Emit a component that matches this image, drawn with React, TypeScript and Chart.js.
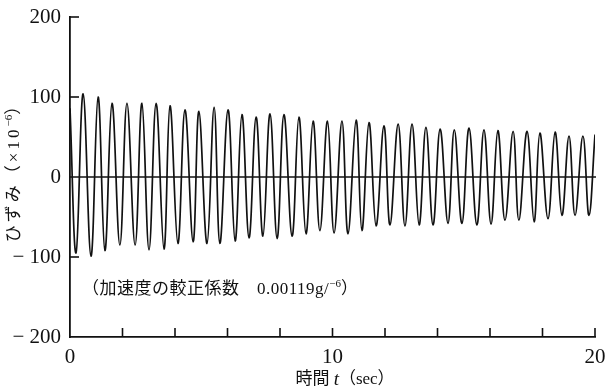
import { useEffect, useRef } from 'react';
import { Chart, registerables } from 'chart.js';

Chart.register(...registerables);

// time (sec) and strain (×10^-6)
const startTime = 0;
const startStrain = 86;
const endTime = 20;
const endStrain = 53;

const peakTimes = [
  0.5, 1.07, 1.6, 2.17, 2.74, 3.28, 3.81, 4.38, 4.91, 5.49, 6.02, 6.55, 7.09, 7.62, 8.15, 8.72, 9.26, 9.81,
  10.36, 10.9, 11.39, 11.96, 12.5, 13.03, 13.56, 14.1, 14.64, 15.2, 15.77, 16.3, 16.88, 17.41, 17.9, 18.48, 19.01, 19.54,
];
const peakStrain = [
  104, 100, 92, 92, 92, 92, 89, 84, 82, 87, 84, 78, 75, 79, 78, 75, 70, 70,
  70, 71, 68, 64, 66, 66, 62, 60, 59, 61, 59, 58, 57, 57, 55, 56, 51, 51,
];
const troughTimes = [
  0.23, 0.8, 1.33, 1.9, 2.48, 3.01, 3.58, 4.11, 4.69, 5.22, 5.71, 6.29, 6.82, 7.35, 7.89, 8.46, 8.99, 9.52,
  10.06, 10.59, 11.12, 11.66, 12.19, 12.76, 13.3, 13.83, 14.4, 14.93, 15.5, 16.04, 16.57, 17.1, 17.68, 18.21, 18.74, 19.24, 19.77,
];
const troughStrain = [
  -95, -99, -92, -85, -85, -91, -90, -83, -81, -83, -83, -80, -76, -74, -77, -74, -71, -67,
  -70, -71, -67, -61, -60, -61, -60, -60, -58, -58, -60, -59, -54, -54, -56, -52, -48, -48, -48,
];

const xTickLabels = ['0', '10', '20'];
const xTickMarks = [2, 4, 6, 8, 10, 12, 14, 16, 18, 20];
const yTickValues = [200, 100, 0, -100, -200];
const yTickMarks = [200, 100, -100];

const yTitleMain = 'ひずみ（×10';
const yTitleSup = '−6';
const yTitleEnd = '）';
const noteMain = '（加速度の較正係数　0.00119g/';
const noteSup = '−6';
const noteEnd = '）';
const xTitleA = '時間 ';
const xTitleB = 't';
const xTitleC = '（sec）';

const SERIF = "'Liberation Serif', 'Noto Sans CJK JP', serif";

type Seg = { text: string; font: string; dy?: number; spacing?: string };

function drawRich(ctx: CanvasRenderingContext2D, segs: Seg[], cx: number, cy: number) {
  let total = 0;
  const widths: number[] = [];
  for (const s of segs) {
    ctx.font = s.font;
    (ctx as any).letterSpacing = s.spacing || '0px';
    const w = ctx.measureText(s.text).width;
    widths.push(w);
    total += w;
  }
  let x = cx - total / 2;
  ctx.textAlign = 'left';
  ctx.textBaseline = 'middle';
  segs.forEach((s, i) => {
    ctx.font = s.font;
    (ctx as any).letterSpacing = s.spacing || '0px';
    ctx.fillText(s.text, x, cy + (s.dy || 0));
    x += widths[i];
  });
  (ctx as any).letterSpacing = '0px';
}

const decorPlugin = {
  id: 'decor',
  beforeDatasetsDraw(chart: any) {
    const { ctx, scales } = chart;
    const xs = scales.x;
    const ys = scales.y;
    ctx.save();
    ctx.strokeStyle = '#111';
    ctx.lineWidth = 1.6;
    const y0 = ys.getPixelForValue(0);
    ctx.beginPath();
    ctx.moveTo(xs.getPixelForValue(0), y0);
    ctx.lineTo(xs.getPixelForValue(20) + 1, y0);
    ctx.stroke();
    const yb = ys.getPixelForValue(-200);
    for (const t of xTickMarks) {
      const px = xs.getPixelForValue(t);
      ctx.beginPath();
      ctx.moveTo(px, yb);
      ctx.lineTo(px, yb - 9);
      ctx.stroke();
    }
    const xl = xs.getPixelForValue(0);
    for (const v of yTickMarks) {
      const py = ys.getPixelForValue(v);
      ctx.beginPath();
      ctx.moveTo(xl, py);
      ctx.lineTo(xl + 9, py);
      ctx.stroke();
    }
    ctx.restore();
  },
  afterDraw(chart: any) {
    const { ctx } = chart;
    ctx.save();
    ctx.fillStyle = '#111';
    // annotation
    drawRich(
      ctx,
      [
        { text: noteMain, font: `17px ${SERIF}`, spacing: '0.5px' },
        { text: noteSup, font: `11px ${SERIF}`, dy: -6 },
        { text: noteEnd, font: `17px ${SERIF}` },
      ],
      220,
      290,
    );
    // x title
    drawRich(
      ctx,
      [
        { text: xTitleA, font: `17px ${SERIF}` },
        { text: xTitleB, font: `italic 19px ${SERIF}` },
        { text: xTitleC, font: `17px ${SERIF}` },
      ],
      345,
      380,
    );
    // y title
    ctx.translate(15, 170);
    ctx.rotate(-Math.PI / 2);
    drawRich(
      ctx,
      [
        { text: yTitleMain, font: `17px ${SERIF}`, spacing: '3px' },
        { text: yTitleSup, font: `11px ${SERIF}`, dy: -6 },
        { text: yTitleEnd, font: `17px ${SERIF}` },
      ],
      0,
      0,
    );
    ctx.restore();
  },
};

export default function App() {
  const ref = useRef<HTMLCanvasElement | null>(null);
  useEffect(() => {
    document.body.style.margin = '0';
    const pts: { x: number; y: number }[] = [{ x: startTime, y: startStrain }];
    peakTimes.forEach((t, i) => pts.push({ x: t, y: peakStrain[i] }));
    troughTimes.forEach((t, i) => pts.push({ x: t, y: troughStrain[i] }));
    pts.push({ x: endTime, y: endStrain });
    pts.sort((a, b) => a.x - b.x);

    const chart = new Chart(ref.current as HTMLCanvasElement, {
      type: 'line',
      data: {
        datasets: [
          {
            data: pts,
            borderColor: '#111',
            borderWidth: 1.7,
            pointRadius: 0,
            tension: 0.4,
            fill: false,
          },
        ],
      },
      options: {
        responsive: false,
        maintainAspectRatio: false,
        animation: false,
        layout: { padding: { top: 17, right: 11, left: 0, bottom: 0 } },
        plugins: { legend: { display: false }, tooltip: { enabled: false } },
        scales: {
          x: {
            type: 'linear',
            min: 0,
            max: 20,
            afterFit: (s: any) => {
              s.height = 53;
              s.paddingRight = 0;
              s.paddingLeft = 0;
            },
            afterBuildTicks: (s: any) => {
              s.ticks = xTickLabels.map((l) => ({ value: Number(l) }));
            },
            grid: { drawOnChartArea: false, drawTicks: false, color: 'transparent' },
            border: { display: true, color: '#111', width: 1.8 },
            ticks: {
              color: '#111',
              padding: 8,
              maxRotation: 0,
              font: { family: SERIF, size: 21 },
              callback: (v: any) => String(v),
            },
          },
          y: {
            type: 'linear',
            min: -200,
            max: 200,
            afterFit: (s: any) => {
              s.width = 70;
              s.paddingTop = 0;
              s.paddingBottom = 0;
            },
            afterBuildTicks: (s: any) => {
              s.ticks = yTickValues.map((v) => ({ value: v }));
            },
            grid: { drawOnChartArea: false, drawTicks: false, color: 'transparent' },
            border: { display: true, color: '#111', width: 1.8 },
            ticks: {
              color: '#111',
              padding: 9,
              font: { family: SERIF, size: 21 },
              callback: (v: any) => (Number(v) < 0 ? '− ' + Math.abs(Number(v)) : String(v)),
            },
          },
        },
      },
      plugins: [decorPlugin],
    });
    return () => chart.destroy();
  }, []);
  return (
    <div style={{ width: 606, height: 390 }}>
      <canvas ref={ref} width={606} height={390} style={{ display: 'block' }} />
    </div>
  );
}
